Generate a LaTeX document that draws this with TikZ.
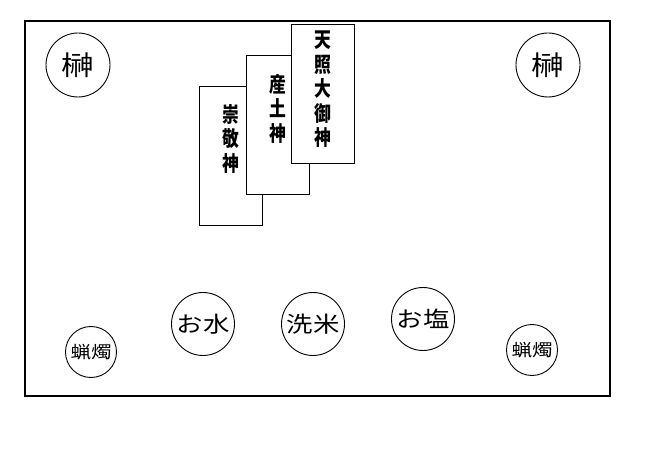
\documentclass[tikz,border=0pt]{standalone}
\usepackage{fontspec}
\newfontfamily\jpwide{Noto Sans CJK JP}[FakeStretch=1.2]
\newfontfamily\jpnarrow{Noto Sans CJK JP}[FakeStretch=0.8]
\begin{document}
\begin{tikzpicture}[x=1pt,y=-1pt,
    plate/.style={draw,fill=white,line width=0.9pt,minimum width=63pt,minimum height=139pt,inner sep=0pt},
    kami/.style={anchor=north,align=center,inner sep=0pt,font=\jpnarrow\bfseries\fontsize{21}{24.5}\selectfont},
    ring/.style={draw,circle,line width=0.9pt,inner sep=0pt,minimum size=#1}]
  \useasboundingbox (0,0) rectangle (646,465);
  \node[draw,line width=2pt,minimum width=585pt,minimum height=375pt,inner sep=0pt] (altar) at (317.5,208.5) {};
  % ofuda, back to front
  \node[plate] (sukei) at (230.5,155.5) {};
  \node[kami] (sukeit) at (230.5,104) {崇\\敬\\神};
  \node[plate] (ubusuna) at (277.5,124.5) {};
  \node[kami] (ubusunat) at (277.5,74) {産\\土\\神};
  \node[plate] (amaterasu) at (323,93.5) {};
  \node[kami] (amaterasut) at (322.5,31) {天\\照\\大\\御\\神};
  % sakaki
  \node[ring=64pt,font=\jpwide\fontsize{27}{27}\selectfont] (sakaki1) at (78,65) {榊};
  \node[ring=64pt,font=\jpwide\fontsize{27}{27}\selectfont] (sakaki2) at (548,65) {榊};
  % offerings
  \node[ring=63pt,font=\jpwide\fontsize{22}{22}\selectfont] (mizu) at (203,324) {お水};
  \node[ring=63pt,font=\jpwide\fontsize{22}{22}\selectfont] (kome) at (313,324) {洗米};
  \node[ring=63pt,font=\jpwide\fontsize{22}{22}\selectfont] (shio) at (423,319) {お塩};
  % candles
  \node[ring=51pt,font=\jpwide\fontsize{17}{17}\selectfont] (rousoku1) at (91,352) {蝋燭};
  \node[ring=51pt,font=\jpwide\fontsize{17}{17}\selectfont] (rousoku2) at (532,350) {蝋燭};
\end{tikzpicture}
\end{document}
